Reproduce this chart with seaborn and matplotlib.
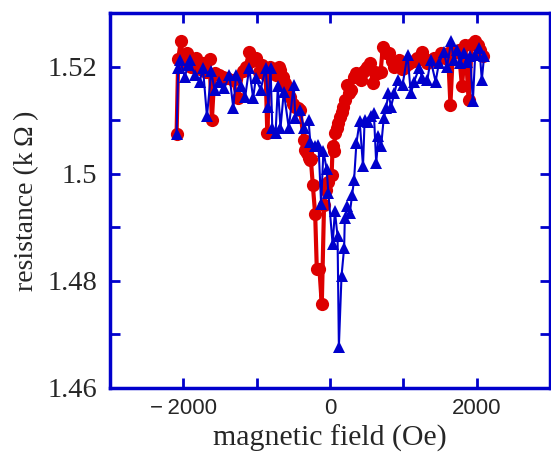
import matplotlib
matplotlib.use('Agg')
import matplotlib.pyplot as plt
import pandas as pd
import seaborn as sns

# ── Data ──
red_field = [-2092, -2070, -2034, -2000, -1948, -1890, -1822, -1777, -1732, -1687,
             -1642, -1611, -1575, -1520, -1462, -1400, -1327, -1260, -1192, -1147,
             -1102, -1057, -1012, -967, -922, -877, -855, -820, -787, -742,
             -700, -675, -640, -607, -575, -540, -505, -472, -440, -405,
             -360, -337, -315, -290, -270, -261, -234, -202, -180, -144,
             -112, -81, -58, -31, 22, 36, 58, 67, 90, 112,
             135, 157, 180, 202, 238, 260, 292, 325, 360, 395,
             427, 450, 472, 505, 540, 585, 620, 652, 690, 720,
             765, 810, 845, 877, 910, 945, 980, 1012, 1057, 1102,
             1147, 1192, 1230, 1260, 1295, 1327, 1372, 1417, 1460, 1507,
             1540, 1575, 1610, 1642, 1675, 1710, 1755, 1800, 1845, 1890,
             1935, 1980, 2020, 2047, 2092]
red_res = [1.5075, 1.5214, 1.5248, 1.5205, 1.5225, 1.5200, 1.5216, 1.5195, 1.5206, 1.5190,
           1.5214, 1.5100, 1.5188, 1.5185, 1.5181, 1.5178, 1.5175, 1.5141, 1.5191, 1.5200,
           1.5228, 1.5210, 1.5216, 1.5190, 1.5203, 1.5185, 1.5076, 1.5200, 1.5194, 1.5185,
           1.5200, 1.5194, 1.5180, 1.5169, 1.5155, 1.5144, 1.5130, 1.5125, 1.5122, 1.5119,
           1.5063, 1.5045, 1.5039, 1.5030, 1.5026, 1.5027, 1.4978, 1.4924, 1.4822, 1.4822,
           1.4756, 1.4942, 1.4970, 1.4985, 1.4998, 1.5051, 1.5043, 1.5076, 1.5085, 1.5094,
           1.5105, 1.5116, 1.5125, 1.5138, 1.5166, 1.5150, 1.5157, 1.5180, 1.5188, 1.5180,
           1.5175, 1.5190, 1.5194, 1.5200, 1.5206, 1.5169, 1.5190, 1.5188, 1.5190, 1.5236,
           1.5225, 1.5225, 1.5210, 1.5200, 1.5205, 1.5212, 1.5195, 1.5197, 1.5205, 1.5209,
           1.5210, 1.5216, 1.5215, 1.5228, 1.5215, 1.5206, 1.5210, 1.5216, 1.5212, 1.5225,
           1.5220, 1.5216, 1.5225, 1.5129, 1.5225, 1.5228, 1.5231, 1.5163, 1.5240, 1.5138,
           1.5243, 1.5247, 1.5240, 1.5231, 1.5219]

blue_field = [-2092, -2070, -2047, -1980, -1935, -1912, -1845, -1777, -1732, -1678,
              -1620, -1575, -1507, -1440, -1372, -1318, -1282, -1215, -1156, -1102,
              -1048, -1012, -945, -877, -841, -810, -787, -742, -711, -675,
              -630, -562, -495, -472, -405, -360, -292, -270, -202, -157,
              -121, -90, -45, -22, 36, 67, 103, 121, 157, 193,
              202, 238, 270, 301, 328, 360, 405, 450, 472, 517,
              562, 598, 630, 661, 697, 733, 765, 796, 832, 877,
              922, 990, 1057, 1102, 1147, 1215, 1260, 1327, 1372, 1440,
              1485, 1552, 1597, 1651, 1687, 1732, 1777, 1822, 1867, 1912,
              1948, 1980, 2038, 2070, 2101]
blue_res = [1.5075, 1.5197, 1.5212, 1.5181, 1.5203, 1.5212, 1.5184, 1.5172, 1.5197, 1.5107,
            1.5191, 1.5157, 1.5172, 1.5160, 1.5184, 1.5122, 1.5184, 1.5163, 1.5144, 1.5197,
            1.5141, 1.5178, 1.5157, 1.5197, 1.5125, 1.5197, 1.5085, 1.5076, 1.5163, 1.5085,
            1.5153, 1.5085, 1.5166, 1.5104, 1.5119, 1.5085, 1.5100, 1.5060, 1.5051, 1.5054,
            1.4943, 1.5042, 1.5008, 1.4964, 1.4868, 1.4930, 1.4883, 1.4677, 1.4809, 1.4862,
            1.4917, 1.4939, 1.4926, 1.4960, 1.4988, 1.5057, 1.5098, 1.5014, 1.5100, 1.5097,
            1.5107, 1.5113, 1.5020, 1.5070, 1.5051, 1.5104, 1.5122, 1.5150, 1.5125, 1.5150,
            1.5175, 1.5166, 1.5222, 1.5150, 1.5172, 1.5197, 1.5178, 1.5175, 1.5212, 1.5172,
            1.5206, 1.5228, 1.5200, 1.5247, 1.5212, 1.5231, 1.5206, 1.5225, 1.5209, 1.5219,
            1.5135, 1.5222, 1.5234, 1.5175, 1.5219]

x_ticks = [-2000, -1000, 0, 1000, 2000]
x_ticklabels = ['\u2212\u20092000', '', '0', '', '2000']
y_ticks = [1.46, 1.47, 1.48, 1.49, 1.50, 1.51, 1.52]
y_ticklabels = ['1.46', '', '1.48', '', '1.5', '', '1.52']

RED = '#DD0000'
BLUE = '#0000CC'

sns.set_style('ticks')
plt.rcParams['font.family'] = ['Liberation Serif', 'DejaVu Serif']

fig = plt.figure(figsize=(5.51, 4.62), dpi=100)
ax = fig.add_axes([110 / 551, 1 - 388 / 462, 440 / 551, 375 / 462])

red_df = pd.DataFrame({'field': red_field, 'res': red_res})
blue_df = pd.DataFrame({'field': blue_field, 'res': blue_res})

sns.lineplot(data=red_df, x='field', y='res', sort=False, ax=ax, color=RED,
             linewidth=3.0, marker='o', markersize=9.5, markeredgewidth=0,
             markerfacecolor=RED)
sns.lineplot(data=blue_df, x='field', y='res', sort=False, ax=ax, color=BLUE,
             linewidth=1.5, marker='^', markersize=8.5, markeredgewidth=0,
             markerfacecolor=BLUE)

ax.set_xlim(-3000, 3000)
ax.set_ylim(1.46, 1.53)
ax.set_xticks(x_ticks)
ax.set_xticklabels(x_ticklabels, family=['Liberation Sans', 'DejaVu Sans'], fontsize=16)
ax.set_yticks(y_ticks)
ax.set_yticklabels(y_ticklabels, fontsize=20.5)

for sp in ax.spines.values():
    sp.set_visible(True)
    sp.set_color(BLUE)
    sp.set_linewidth(2.5)
ax.tick_params(axis='both', direction='in', length=7, width=2, color=BLUE,
               top=True, right=True)
ax.tick_params(axis='y', pad=9)
ax.tick_params(axis='x', pad=7)

ax.set_xlabel('magnetic field (Oe)', fontsize=21.5, labelpad=4)
ax.set_ylabel('resistance (k\u2009\u03a9\u2009)', fontsize=20, labelpad=6)

fig.savefig('out.png', dpi=100, facecolor='white')
